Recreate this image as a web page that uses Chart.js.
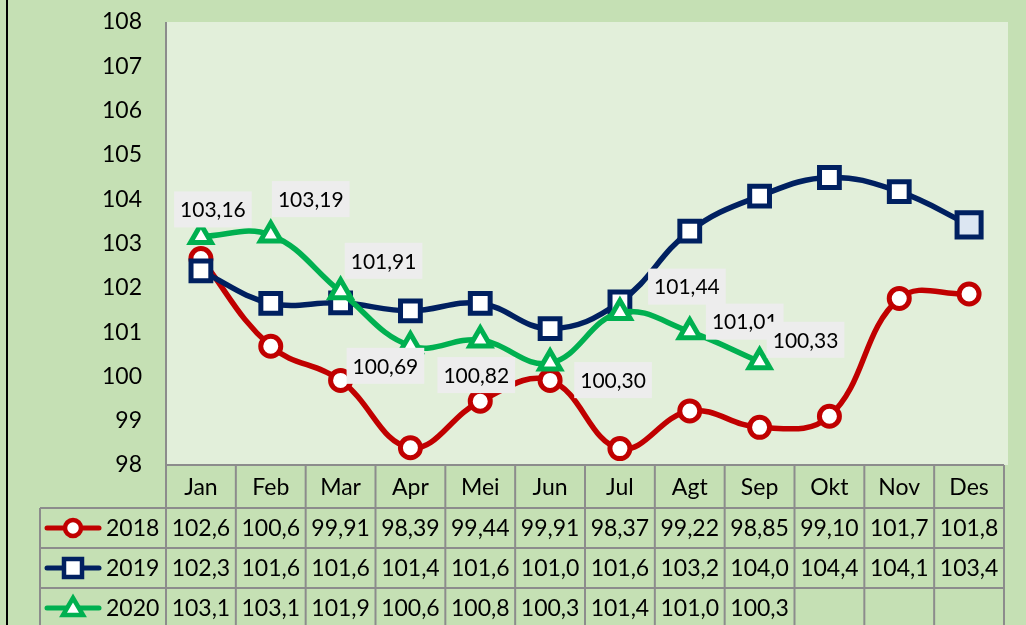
<!DOCTYPE html>
<html>
<head>
<meta charset="utf-8">
<script src="https://cdn.jsdelivr.net/npm/chart.js@4.4.0/dist/chart.umd.min.js"></script>
<style>
  html, body { margin: 0; padding: 0; background: #c5e0b4; }
  #wrap { width: 1026px; height: 625px; }
</style>
</head>
<body>
<div id="wrap"><canvas id="myChart" width="1026" height="625"></canvas></div>
<script>
// data
const months = ['Jan', 'Feb', 'Mar', 'Apr', 'Mei', 'Jun', 'Jul', 'Agt', 'Sep', 'Okt', 'Nov', 'Des'];
const years = ['2018', '2019', '2020'];
const data2018 = [102.66, 100.68, 99.91, 98.39, 99.44, 99.91, 98.37, 99.22, 98.85, 99.10, 101.76, 101.86];
const data2019 = [102.38, 101.65, 101.66, 101.48, 101.65, 101.08, 101.68, 103.28, 104.07, 104.49, 104.17, 103.42];
const data2020 = [103.16, 103.19, 101.91, 100.69, 100.82, 100.30, 101.44, 101.01, 100.33, null, null, null];
const yMin = 98;
const yMax = 108;

const FONT = "Lato, 'Noto Sans', sans-serif";
const colors = ['#c00000', '#002060', '#00b050'];
const styles = ['circle', 'rect', 'triangle'];

// where each 2020 label box sits, relative to its point
const labelShift = [[12, -27], [40, -36], [43, -31], [-25, 20], [-4, 35], [63, 17], [67, -26], [55, -10], [46, -22]];

function fmt(v) {
  if (v == null) return '';
  let s;
  if (v >= 100) s = (Math.floor(v * 10 + 1e-6) / 10).toFixed(1);
  else s = (Math.floor(v * 100 + 1e-6) / 100).toFixed(2);
  return s.replace('.', ',');
}

function drawMarker(ctx, style, x, y, color) {
  ctx.save();
  ctx.lineWidth = 4.5;
  ctx.strokeStyle = color;
  ctx.fillStyle = '#ffffff';
  ctx.beginPath();
  if (style == 'circle') {
    ctx.arc(x, y, 8, 0, Math.PI * 2);
  } else if (style == 'rect') {
    ctx.rect(x - 9, y - 9, 18, 18);
  } else {
    ctx.moveTo(x, y - 10);
    ctx.lineTo(x + 10, y + 7);
    ctx.lineTo(x - 10, y + 7);
    ctx.closePath();
  }
  ctx.fill();
  ctx.stroke();
  ctx.restore();
}

const background = {
  id: 'background',
  beforeDraw(chart) {
    const ctx = chart.ctx;
    const a = chart.chartArea;
    ctx.save();
    ctx.fillStyle = '#c5e0b4';
    ctx.fillRect(0, 0, chart.width, chart.height);
    ctx.fillStyle = '#e2efda';
    ctx.fillRect(a.left, a.top, a.right - a.left + 4, a.bottom - a.top);
    ctx.fillStyle = '#000000';
    ctx.fillRect(6, 0, 2, chart.height);
    ctx.strokeStyle = '#8c8c8c';
    ctx.lineWidth = 2;
    ctx.beginPath();
    ctx.moveTo(a.left, a.top);
    ctx.lineTo(a.left, a.bottom);
    ctx.stroke();
    ctx.restore();
  }
};

const pointLabels = {
  id: 'pointLabels',
  afterDatasetsDraw(chart) {
    const ctx = chart.ctx;
    const meta = chart.getDatasetMeta(2);
    ctx.save();
    ctx.font = '21px ' + FONT;
    ctx.textAlign = 'center';
    ctx.textBaseline = 'middle';
    data2020.forEach((v, i) => {
      if (v == null) return;
      const p = meta.data[i];
      const cx = p.x + labelShift[i][0];
      const cy = p.y + labelShift[i][1];
      const txt = v.toFixed(2).replace('.', ',');
      const w = ctx.measureText(txt).width + 12;
      ctx.fillStyle = '#ededed';
      ctx.fillRect(cx - w / 2, cy - 18, w, 36);
      ctx.fillStyle = '#000000';
      ctx.fillText(txt, cx, cy + 1);
    });
    ctx.restore();
  }
};

const dataTable = {
  id: 'dataTable',
  afterDraw(chart) {
    const ctx = chart.ctx;
    const a = chart.chartArea;
    const colW = (a.right - a.left) / months.length;
    const top = a.bottom;
    const headH = 43;
    const rowH = 40;
    const legL = 40;
    const rows = [data2018, data2019, data2020];
    const bottom = top + headH + rowH * rows.length;

    ctx.save();
    ctx.strokeStyle = '#8c8c8c';
    ctx.lineWidth = 2;
    ctx.beginPath();
    ctx.moveTo(a.left, top);
    ctx.lineTo(a.right, top);
    for (let r = 0; r <= rows.length; r++) {
      const y = top + headH + r * rowH;
      ctx.moveTo(legL, y);
      ctx.lineTo(a.right, y);
    }
    for (let c = 0; c <= months.length; c++) {
      const x = a.left + c * colW;
      ctx.moveTo(x, top);
      ctx.lineTo(x, bottom);
    }
    ctx.moveTo(legL, top + headH);
    ctx.lineTo(legL, bottom);
    ctx.stroke();

    ctx.fillStyle = '#000000';
    ctx.font = '23px ' + FONT;
    ctx.textAlign = 'center';
    ctx.textBaseline = 'middle';
    months.forEach((m, i) => {
      ctx.fillText(m, a.left + (i + 0.5) * colW, top + headH / 2 + 1);
    });
    rows.forEach((vals, r) => {
      const y = top + headH + (r + 0.5) * rowH + 1;
      vals.forEach((v, i) => {
        ctx.fillText(fmt(v), a.left + (i + 0.5) * colW, y);
      });
    });

    // legend keys
    rows.forEach((vals, r) => {
      const y = top + headH + (r + 0.5) * rowH;
      ctx.save();
      ctx.strokeStyle = colors[r];
      ctx.lineWidth = 5;
      ctx.lineCap = 'round';
      ctx.beginPath();
      ctx.moveTo(47, y);
      ctx.lineTo(99, y);
      ctx.stroke();
      ctx.restore();
      drawMarker(ctx, styles[r], 73, y, colors[r]);
      ctx.fillStyle = '#000000';
      ctx.textAlign = 'left';
      ctx.fillText(years[r], 106, y + 1);
    });
    ctx.restore();
  }
};

const config = {
  type: 'line',
  data: {
    labels: months,
    datasets: [
      {
        label: years[0],
        data: data2018,
        borderColor: colors[0],
        borderWidth: 5.5,
        tension: 0.4,
        pointStyle: 'circle',
        pointRadius: 10,
        pointBorderWidth: 5,
        pointBackgroundColor: '#ffffff',
        pointBorderColor: colors[0],
        order: 3
      },
      {
        label: years[1],
        data: data2019,
        borderColor: colors[1],
        borderWidth: 5.5,
        tension: 0.4,
        pointStyle: 'rect',
        pointRadius: (c) => c.dataIndex == 11 ? 17 : 14,
        pointBorderWidth: 5,
        pointBackgroundColor: (c) => c.dataIndex == 11 ? '#dce6f2' : '#ffffff',
        pointBorderColor: colors[1],
        order: 2
      },
      {
        label: years[2],
        data: data2020,
        borderColor: colors[2],
        borderWidth: 5.5,
        tension: 0.4,
        pointStyle: 'triangle',
        pointRadius: 12,
        pointBorderWidth: 5,
        pointBackgroundColor: '#ffffff',
        pointBorderColor: colors[2],
        order: 1
      }
    ]
  },
  options: {
    responsive: false,
    animation: false,
    devicePixelRatio: 1,
    layout: { padding: { top: 22, right: 15, bottom: 160, left: 0 } },
    plugins: {
      legend: { display: false },
      tooltip: { enabled: false }
    },
    scales: {
      x: {
        display: false,
        offset: true
      },
      y: {
        min: yMin,
        max: yMax,
        afterFit(scale) {
          scale.width = 166;
          scale.paddingTop = 0;
          scale.paddingBottom = 0;
        },
        grid: { display: false, drawTicks: false },
        border: { display: false },
        ticks: {
          stepSize: 1,
          padding: 24,
          color: '#000000',
          font: { size: 23, family: FONT }
        }
      }
    }
  },
  plugins: [background, pointLabels, dataTable]
};

var myChart = new Chart(document.getElementById('myChart'), config);
</script>
</body>
</html>
